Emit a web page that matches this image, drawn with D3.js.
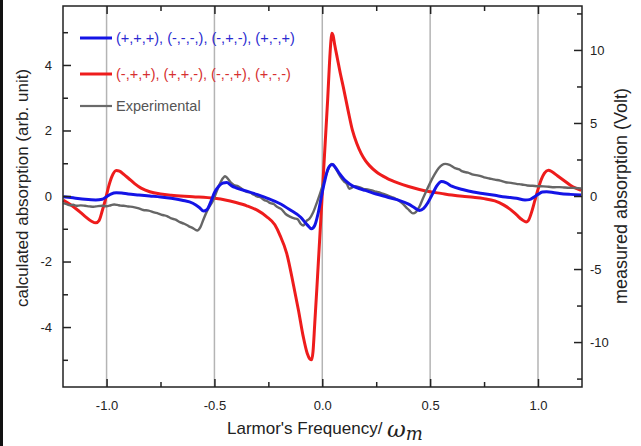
<!DOCTYPE html>
<html>
<head>
<meta charset="utf-8">
<script src="https://cdn.jsdelivr.net/npm/d3@7"></script>
<style>
  body { margin: 0; background: #fff; }
  svg { font-family: "Liberation Sans", Arial, sans-serif; }
</style>
</head>
<body>
<svg id="chart" width="641" height="446"></svg>
<script>
// frequency (in units of omega_m) and values
const blueX = [-1.2,-1.15,-1.1,-1.05,-1.02,-1.0,-0.98,-0.955,-0.93,-0.9,-0.85,-0.8,-0.75,-0.7,-0.65,-0.6,-0.57,-0.55,-0.535,-0.515,-0.5,-0.48,-0.46,-0.443,-0.42,-0.4,-0.35,-0.3,-0.25,-0.2,-0.15,-0.1,-0.07,-0.05,-0.035,-0.02,-0.005,0.01,0.025,0.04,0.048,0.06,0.08,0.1,0.113,0.14,0.17,0.2,0.25,0.3,0.35,0.4,0.43,0.45,0.47,0.49,0.51,0.53,0.553,0.575,0.6,0.65,0.7,0.75,0.8,0.85,0.9,0.94,0.96,0.98,1.0,1.02,1.04,1.07,1.1,1.15,1.2];
const blueY = [-0.02,-0.06,-0.1,-0.12,-0.1,-0.02,0.06,0.1,0.09,0.06,0.03,0.0,-0.03,-0.07,-0.13,-0.22,-0.35,-0.46,-0.42,-0.15,0.1,0.3,0.4,0.41,0.31,0.25,0.15,0.04,-0.08,-0.22,-0.42,-0.65,-0.88,-1.0,-0.9,-0.55,-0.05,0.42,0.8,0.95,0.96,0.88,0.68,0.52,0.44,0.31,0.23,0.17,0.06,-0.03,-0.12,-0.25,-0.37,-0.44,-0.38,-0.2,0.05,0.3,0.44,0.4,0.3,0.2,0.12,0.07,0.02,-0.03,-0.07,-0.12,-0.11,-0.04,0.05,0.12,0.13,0.11,0.08,0.05,0.03];

const redX = [-1.2,-1.17,-1.13,-1.1,-1.07,-1.05,-1.035,-1.02,-1.005,-0.99,-0.975,-0.955,-0.94,-0.92,-0.9,-0.87,-0.84,-0.8,-0.75,-0.7,-0.6,-0.5,-0.45,-0.4,-0.35,-0.3,-0.26,-0.22,-0.196,-0.165,-0.134,-0.11,-0.088,-0.07,-0.058,-0.049,-0.043,-0.035,-0.025,-0.015,-0.005,0.005,0.015,0.025,0.033,0.039,0.044,0.05,0.058,0.07,0.085,0.097,0.12,0.14,0.16,0.18,0.2,0.22,0.25,0.3,0.35,0.4,0.45,0.5,0.55,0.6,0.65,0.7,0.75,0.8,0.84,0.87,0.9,0.925,0.945,0.955,0.97,0.985,1.0,1.015,1.03,1.048,1.065,1.09,1.117,1.15,1.175,1.2];
const redY = [-0.13,-0.25,-0.45,-0.62,-0.77,-0.82,-0.75,-0.45,-0.1,0.3,0.6,0.78,0.76,0.66,0.55,0.38,0.24,0.13,0.06,0.02,-0.02,-0.07,-0.12,-0.2,-0.3,-0.44,-0.62,-0.88,-1.2,-1.75,-2.7,-3.5,-4.3,-4.8,-4.97,-5.0,-4.75,-3.9,-2.8,-1.65,-0.5,0.65,1.8,2.95,4.0,4.65,4.97,4.9,4.6,4.2,3.7,3.34,2.6,2.0,1.6,1.3,1.08,0.92,0.74,0.54,0.4,0.29,0.2,0.13,0.08,0.03,-0.01,-0.04,-0.08,-0.15,-0.27,-0.4,-0.57,-0.72,-0.79,-0.75,-0.5,-0.15,0.2,0.5,0.7,0.79,0.74,0.62,0.49,0.33,0.24,0.17];

// experimental trace, in Volt (right axis)
const expX = [-1.2,-1.185,-1.17,-1.155,-1.14,-1.12,-1.1,-1.08,-1.06,-1.04,-1.02,-1.0,-0.98,-0.965,-0.95,-0.935,-0.92,-0.9,-0.88,-0.855,-0.83,-0.805,-0.78,-0.76,-0.74,-0.72,-0.7,-0.68,-0.66,-0.64,-0.62,-0.6,-0.58,-0.565,-0.55,-0.53,-0.505,-0.48,-0.46,-0.451,-0.44,-0.425,-0.41,-0.39,-0.37,-0.35,-0.335,-0.32,-0.3,-0.285,-0.27,-0.255,-0.24,-0.225,-0.21,-0.19,-0.17,-0.15,-0.13,-0.115,-0.1,-0.088,-0.072,-0.06,-0.042,-0.025,-0.01,0.01,0.03,0.044,0.055,0.07,0.085,0.1,0.115,0.125,0.135,0.15,0.17,0.19,0.21,0.23,0.25,0.27,0.29,0.31,0.33,0.35,0.37,0.39,0.405,0.42,0.435,0.45,0.465,0.48,0.5,0.52,0.54,0.555,0.57,0.59,0.615,0.635,0.65,0.675,0.7,0.725,0.75,0.775,0.8,0.825,0.85,0.875,0.9,0.925,0.95,0.975,1.0,1.025,1.05,1.075,1.1,1.125,1.15,1.175,1.2];
const expY = [-0.49,-0.56,-0.63,-0.6,-0.67,-0.64,-0.67,-0.71,-0.74,-0.69,-0.67,-0.7,-0.63,-0.58,-0.61,-0.66,-0.67,-0.72,-0.74,-0.83,-0.96,-1.0,-1.12,-1.2,-1.3,-1.38,-1.53,-1.62,-1.79,-1.9,-2.06,-2.2,-2.36,-2.13,-1.57,-0.9,-0.27,0.67,1.23,1.35,1.23,0.94,0.76,0.67,0.45,0.29,0.24,0.11,-0.04,-0.1,-0.27,-0.36,-0.49,-0.55,-0.74,-0.9,-1.23,-1.41,-1.53,-1.58,-1.91,-2.02,-1.68,-1.57,-1.12,-0.45,0.18,1.12,1.91,2.2,2.06,1.68,1.3,1.01,0.79,0.49,0.56,0.67,0.61,0.49,0.45,0.38,0.29,0.22,0.11,0.0,-0.11,-0.27,-0.49,-0.79,-1.01,-1.19,-1.08,-0.74,-0.22,0.27,0.9,1.46,1.91,2.13,2.2,2.13,1.91,1.82,1.68,1.6,1.46,1.4,1.28,1.2,1.12,1.05,0.94,0.9,0.83,0.79,0.72,0.7,0.67,0.66,0.63,0.6,0.61,0.58,0.56,0.55,0.52];

const xTicks = [-1.0, -0.5, 0.0, 0.5, 1.0];
const xMinor = [-0.75, -0.25, 0.25, 0.75];
const leftTicks = [-4, -2, 0, 2, 4];
const leftMinor = [-5, -3, -1, 1, 3, 5];
const rightTicks = [-10, -5, 0, 5, 10];
const rightMinor = [-12.5, -7.5, -2.5, 2.5, 7.5, 12.5];

const legendItems = [
    {label: "(+,+,+), (-,-,-,), (-,+,-), (+,-,+)", color: "#1414e6", text: "#2a2ad0", w: 3},
    {label: "(-,+,+), (+,+,-), (-,-,+), (+,-,-)", color: "#ee1c1c", text: "#d63030", w: 3},
    {label: "Experimental", color: "#6a6a6a", text: "#555", w: 2.2}
];

let svg = d3.select("#chart");
let margin = {top: 6, right: 59, bottom: 59, left: 63};
let width = 641 - margin.left - margin.right;
let height = 446 - margin.top - margin.bottom;

// left edge black frame
svg.append("rect").attr("x", 0).attr("y", 0).attr("width", 3).attr("height", 446).attr("fill", "#111");

let g = svg.append("g").attr("transform", `translate(${margin.left},${margin.top})`);

let x = d3.scaleLinear().domain([-1.202, 1.204]).range([0, width]);
let yL = d3.scaleLinear().domain([-5.83, 5.80]).range([height, 0]);
let yR = d3.scaleLinear().domain([-5.83 * 2.243, 5.80 * 2.243]).range([height, 0]);

// hyphen minus like the original, not the unicode minus
let fmt1 = d => d.toFixed(1);
let fmt0 = d => String(d);

// vertical grid lines
g.selectAll(".vgrid").data(xTicks).enter().append("line")
    .attr("class", "vgrid")
    .attr("x1", d => x(d)).attr("x2", d => x(d))
    .attr("y1", 0).attr("y2", height)
    .attr("stroke", "#b4b4b4").attr("stroke-width", 1.5);

// curves
let lineL = d3.line().x(d => x(d[0])).y(d => yL(d[1])).curve(d3.curveMonotoneX);
let lineR = d3.line().x(d => x(d[0])).y(d => yR(d[1])).curve(d3.curveMonotoneX);

g.append("path").datum(d3.zip(redX, redY))
    .attr("d", lineL).attr("fill", "none").attr("stroke", "#ee1c1c").attr("stroke-width", 3);
g.append("path").datum(d3.zip(expX, expY))
    .attr("d", lineR).attr("fill", "none").attr("stroke", "#666").attr("stroke-width", 2.4)
    .attr("stroke-linejoin", "round");
g.append("path").datum(d3.zip(blueX, blueY))
    .attr("d", lineL).attr("fill", "none").attr("stroke", "#1414e6").attr("stroke-width", 3);

// axes
let axisColor = "#222";
function styleAxis(sel) {
    sel.select(".domain").remove();
    sel.selectAll(".tick line").attr("stroke", axisColor).attr("stroke-width", 1.5);
    sel.selectAll("text").attr("font-size", 13).attr("fill", "#222");
}

g.append("g").attr("transform", `translate(0,${height})`)
    .call(d3.axisBottom(x).tickValues(xTicks).tickFormat(fmt1).tickSizeInner(-8).tickPadding(14))
    .call(styleAxis);
g.append("g").attr("transform", `translate(0,${height})`)
    .call(d3.axisBottom(x).tickValues(xMinor).tickFormat("").tickSizeInner(-5))
    .call(styleAxis);
g.append("g")
    .call(d3.axisTop(x).tickValues(xTicks).tickFormat("").tickSizeInner(-8))
    .call(styleAxis);
g.append("g")
    .call(d3.axisTop(x).tickValues(xMinor).tickFormat("").tickSizeInner(-5))
    .call(styleAxis);

g.append("g")
    .call(d3.axisLeft(yL).tickValues(leftTicks).tickFormat(fmt0).tickSizeInner(-8).tickPadding(11))
    .call(styleAxis);
g.append("g")
    .call(d3.axisLeft(yL).tickValues(leftMinor).tickFormat("").tickSizeInner(-5))
    .call(styleAxis);
g.append("g").attr("transform", `translate(${width},0)`)
    .call(d3.axisRight(yR).tickValues(rightTicks).tickFormat(fmt0).tickSizeInner(-8).tickPadding(8))
    .call(styleAxis);
g.append("g").attr("transform", `translate(${width},0)`)
    .call(d3.axisRight(yR).tickValues(rightMinor).tickFormat("").tickSizeInner(-5))
    .call(styleAxis);

// frame
g.append("rect").attr("width", width).attr("height", height)
    .attr("fill", "none").attr("stroke", axisColor).attr("stroke-width", 1.5);

// axis titles
svg.append("text")
    .attr("transform", `translate(28,188) rotate(-90)`)
    .attr("text-anchor", "middle").attr("font-size", 17).attr("fill", "#222")
    .text("calculated absorption (arb. unit)");
svg.append("text")
    .attr("transform", `translate(627,196) rotate(-90)`)
    .attr("text-anchor", "middle").attr("font-size", 18).attr("fill", "#222")
    .text("measured absorption (Volt)");

let xt = svg.append("text")
    .attr("x", 227).attr("y", 434)
    .attr("text-anchor", "start").attr("font-size", 17).attr("fill", "#222");
xt.append("tspan").text("Larmor's Frequency/ ");
xt.append("tspan").attr("font-family", "'DejaVu Serif', serif").attr("font-style", "italic")
    .attr("font-size", 23).attr("dy", 3).text("ω");
xt.append("tspan").attr("font-family", "'DejaVu Serif', serif").attr("font-style", "italic")
    .attr("font-size", 18).attr("dy", 3).text("m");

// legend
let legend = svg.append("g").attr("transform", "translate(80,38)");
legendItems.forEach((d, i) => {
    let row = legend.append("g").attr("transform", `translate(0,${[0, 36, 68][i]})`);
    row.append("line").attr("x1", 0).attr("x2", 32).attr("y1", 0).attr("y2", 0)
        .attr("stroke", d.color).attr("stroke-width", d.w);
    row.append("text").attr("x", 36).attr("y", 0).attr("dy", "0.35em")
        .attr("font-size", 14.5).attr("fill", d.text).text(d.label);
});
</script>
</body>
</html>
